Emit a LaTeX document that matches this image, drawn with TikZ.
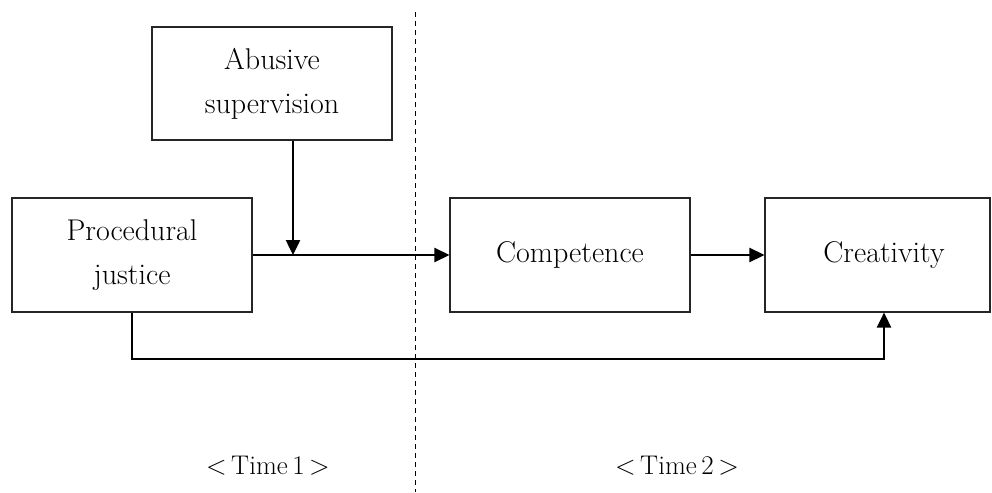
\documentclass[tikz,border=0pt]{standalone}
\usetikzlibrary{arrows.meta}
\begin{document}
\begin{tikzpicture}[x=1pt,y=-1pt,
  box/.style={draw, line width=1.1pt, draw=black!85, inner sep=0pt, align=center,
    font=\fontsize{30}{44}\selectfont},
  arr/.style={line width=2.5pt, -{Triangle[length=15pt,width=14pt]}},
  lbl/.style={font=\fontsize{27}{30}\selectfont, inner sep=0pt}]
\useasboundingbox (0,0) rectangle (992,492);
\node[box, minimum width=240pt, minimum height=113pt] (abs) at (272,83.5) {Abusive\\supervision};
\node[box, minimum width=240pt, minimum height=114pt] (proc) at (132,255) {Procedural\\justice};
\node[box, minimum width=240pt, minimum height=114pt] (comp) at (570,255) {Competence};
\node[box, minimum width=225pt, minimum height=114pt] (crea) at (877.5,255) {\hspace*{13pt}Creativity};
\coordinate (m) at (293,255);
\coordinate (b) at (884,359);
\draw[line width=1pt, dash pattern=on 5pt off 4pt] (415,12) coordinate (dt) -- (415,492) coordinate (db);
\draw[arr] (proc.east) -- (comp.west);
\draw[arr] (abs.south -| m) -- (m);
\draw[arr] (comp.east) -- (crea.west);
\draw[arr] (proc.south) |- (b) -- (crea.south -| b);
\node[lbl] (t1) at (268,466) {<\,Time\,1\,>};
\node[lbl] (t2) at (677,466) {<\,Time\,2\,>};
\end{tikzpicture}
\end{document}
